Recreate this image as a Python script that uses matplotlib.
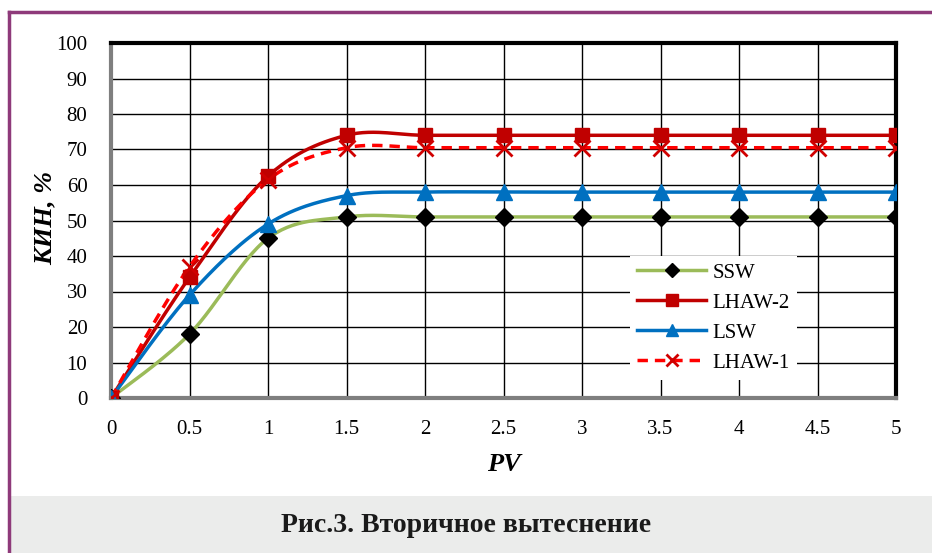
import numpy as np
import matplotlib
matplotlib.use("Agg")
import matplotlib.pyplot as plt
from matplotlib.patches import Rectangle
from matplotlib.lines import Line2D

plt.rcParams['font.family'] = ['Liberation Serif', 'DejaVu Serif']

pv = [0, 0.5, 1, 1.5, 2, 2.5, 3, 3.5, 4, 4.5, 5]
ssw = [0, 18, 45, 51, 51, 51, 51, 51, 51, 51, 51]
lhaw2 = [0, 34, 62.5, 74, 74, 74, 74, 74, 74, 74, 74]
lsw = [0, 29, 49, 57, 58, 58, 58, 58, 58, 58, 58]
lhaw1 = [0, 37, 61.5, 70.5, 70.5, 70.5, 70.5, 70.5, 70.5, 70.5, 70.5]


def smooth(x, y, n=30):
    # excel-like smoothing: bezier with catmull-rom control points
    x = np.asarray(x, float)
    y = np.asarray(y, float)
    xs, ys = [], []
    for i in range(len(x) - 1):
        p0 = np.array([x[max(i - 1, 0)], y[max(i - 1, 0)]])
        p1 = np.array([x[i], y[i]])
        p2 = np.array([x[i + 1], y[i + 1]])
        p3 = np.array([x[min(i + 2, len(x) - 1)], y[min(i + 2, len(x) - 1)]])
        c1 = p1 + (p2 - p0) / 6
        c2 = p2 - (p3 - p1) / 6
        t = np.linspace(0, 1, n)[:, None]
        b = (1 - t) ** 3 * p1 + 3 * (1 - t) ** 2 * t * c1 + 3 * (1 - t) * t ** 2 * c2 + t ** 3 * p2
        xs.extend(b[:, 0])
        ys.extend(b[:, 1])
    return xs, ys


fig = plt.figure(figsize=(9.32, 5.53), dpi=100)

# frame and caption band
fig.patches.append(Rectangle((11 / 932, 0), 1, 57 / 553, transform=fig.transFigure,
                             facecolor='#EBECEB', edgecolor='none', zorder=0))
fig.lines.append(Line2D([9 / 932, 9 / 932], [0, 1 - 12 / 553], transform=fig.transFigure,
                        color='#8E3A7A', lw=2.5))
fig.lines.append(Line2D([9 / 932, 1], [1 - 12 / 553, 1 - 12 / 553], transform=fig.transFigure,
                        color='#8E3A7A', lw=2.5))
fig.text(0.5, 1 - 526 / 553, 'Рис.3. Вторичное вытеснение', ha='center', va='center',
         fontsize=20, fontweight='bold', color='#1a1a1a')

ax = fig.add_axes([111 / 932, 155 / 553, 785 / 932, 355 / 553])

x, y = smooth(pv, ssw)
ax.plot(x, y, color='#9BBB59', lw=2.5, zorder=3)
x, y = smooth(pv, lhaw2)
ax.plot(x, y, color='#C00000', lw=2.5, zorder=3)
x, y = smooth(pv, lsw)
ax.plot(x, y, color='#0070C0', lw=2.5, zorder=3)
x, y = smooth(pv, lhaw1)
ax.plot(x, y, color='#FF0000', lw=2.5, ls=(0, (3, 2)), zorder=3)

ax.plot(pv, ssw, ls='none', marker='D', ms=9, color='black', zorder=4)
ax.plot(pv, lhaw2, ls='none', marker='s', ms=10, color='#C00000', zorder=4)
ax.plot(pv, lsw, ls='none', marker='^', ms=11, color='#0070C0', zorder=4)
ax.plot(pv, lhaw1, ls='none', marker='x', ms=11, mew=2, color='#D00000', zorder=4)

handles = [
    Line2D([], [], color='#9BBB59', lw=2.5, marker='D', ms=7, mfc='black', mec='black'),
    Line2D([], [], color='#C00000', lw=2.5, marker='s', ms=9),
    Line2D([], [], color='#0070C0', lw=2.5, marker='^', ms=9),
    Line2D([], [], color='#FF0000', lw=2.5, ls=(0, (3, 2)), marker='x', ms=9, mew=2, mec='#D00000'),
]
leg = ax.legend(handles, ['SSW', 'LHAW-2', 'LSW', 'LHAW-1'], loc='upper left',
                bbox_to_anchor=(0.648, 0.43), frameon=True, fancybox=False,
                edgecolor='none', facecolor='white', framealpha=1,
                fontsize=15, handlelength=3.3, handletextpad=0.3,
                labelspacing=0.5, borderpad=0.35)
leg.set_zorder(5)

ax.set_xlim(0, 5)
ax.set_ylim(0, 100)
ax.set_xticks(pv)
ax.set_xticklabels(['0', '0.5', '1', '1.5', '2', '2.5', '3', '3.5', '4', '4.5', '5'])
ax.set_yticks(range(0, 101, 10))
ax.tick_params(axis='both', labelsize=15, length=0)
ax.tick_params(axis='x', pad=16)
ax.tick_params(axis='y', pad=17)
ax.grid(True, color='black', lw=1, zorder=1)
ax.set_axisbelow(True)
for s in ['top', 'right']:
    ax.spines[s].set_linewidth(3)
    ax.spines[s].set_color('black')
for s in ['left', 'bottom']:
    ax.spines[s].set_linewidth(3)
    ax.spines[s].set_color('#7f7f7f')

ax.set_xlabel('PV', fontsize=19, fontweight='bold', style='italic', labelpad=10)
ax.set_ylabel('КИН, %', fontsize=19, fontweight='bold', style='italic')
ax.yaxis.set_label_coords(-0.069, 0.507)

fig.savefig('out.png', dpi=100)
